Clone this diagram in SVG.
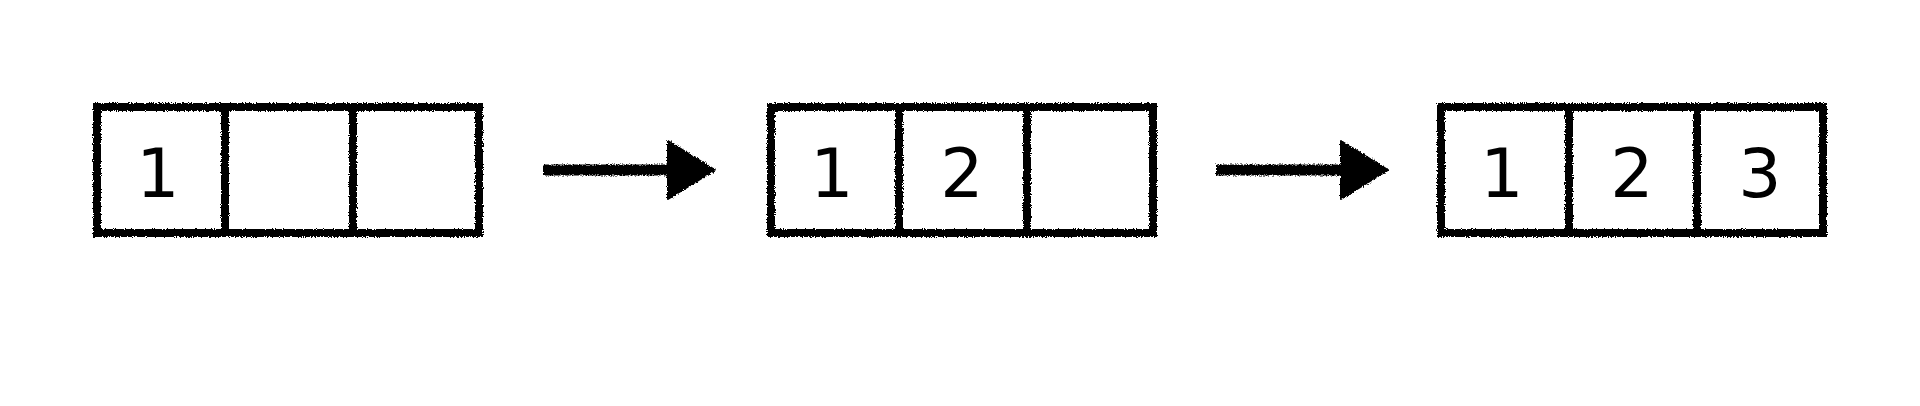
<svg xmlns="http://www.w3.org/2000/svg" width="1920" height="406" viewBox="0 0 1920 406">
  <defs>
    <filter id="rough" filterUnits="userSpaceOnUse" x="0" y="0" width="1920" height="406">
      <feTurbulence type="fractalNoise" baseFrequency="0.9" numOctaves="2" seed="3" result="noise"/>
      <feDisplacementMap in="SourceGraphic" in2="noise" scale="4" xChannelSelector="R" yChannelSelector="G"/>
    </filter>
    <marker id="head" markerUnits="userSpaceOnUse" markerWidth="52" markerHeight="62" refX="2" refY="30" orient="auto">
      <path d="M2,1 L49,30 L2,59 Z" fill="#000" stroke="#000" stroke-width="2" stroke-linejoin="round"/>
    </marker>
    <style>
      .cell { fill: #fff; stroke: #000; stroke-width: 8; stroke-linejoin: miter; }
      .num { font-family: "DejaVu Sans", "Liberation Sans", sans-serif; font-size: 68px; fill: #000; text-anchor: middle; }
      .conn { stroke: #000; stroke-width: 11; fill: none; }
    </style>
  </defs>
  <rect width="1920" height="406" fill="#fff"/>

  <g id="array1" filter="url(#rough)">
    <rect class="cell" x="97" y="107" width="128" height="126"/>
    <rect class="cell" x="225" y="107" width="128" height="126"/>
    <rect class="cell" x="353" y="107" width="126" height="126"/>
  </g>
  <g id="array1-text">
    <text class="num" x="158" y="197">1</text>
  </g>

  <g id="array2" filter="url(#rough)">
    <rect class="cell" x="771" y="107" width="128" height="126"/>
    <rect class="cell" x="899" y="107" width="128" height="126"/>
    <rect class="cell" x="1027" y="107" width="126" height="126"/>
  </g>
  <g id="array2-text">
    <text class="num" x="832" y="197">1</text>
    <text class="num" x="962" y="197">2</text>
  </g>

  <g id="array3" filter="url(#rough)">
    <rect class="cell" x="1441" y="107" width="128" height="126"/>
    <rect class="cell" x="1569" y="107" width="128" height="126"/>
    <rect class="cell" x="1697" y="107" width="126" height="126"/>
  </g>
  <g id="array3-text">
    <text class="num" x="1502" y="197">1</text>
    <text class="num" x="1632" y="197">2</text>
    <text class="num" x="1760" y="197">3</text>
  </g>

  <g id="connectors" filter="url(#rough)">
    <line class="conn" x1="543" y1="170" x2="668" y2="170" marker-end="url(#head)"/>
    <line class="conn" x1="1216" y1="170" x2="1341" y2="170" marker-end="url(#head)"/>
  </g>
</svg>
